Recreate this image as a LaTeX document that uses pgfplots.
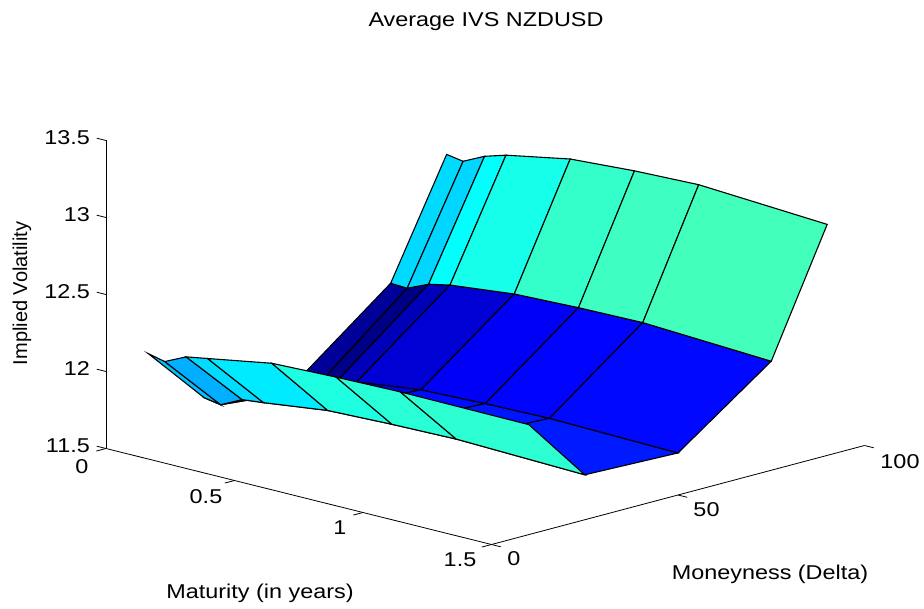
\documentclass[border=0pt]{standalone}
\usepackage{fontspec}
\setmainfont[FakeStretch=1.17]{Liberation Sans}
\newfontfamily\plainsans{Liberation Sans}
\usepackage{pgfplots}
\pgfplotsset{compat=1.18}
\tikzset{
  tl/.style={font=\fontsize{20}{24}\selectfont,anchor=center,inner sep=0pt},
  zl/.style={font=\fontsize{20}{24}\selectfont,anchor=east,inner sep=0pt,xshift=-16pt,yshift=2.5pt},
  ax/.style={black,line width=0.8pt},
}
\begin{document}
\begin{tikzpicture}
\useasboundingbox (0pt,0pt) rectangle (924pt,608pt);
\begin{axis}[
  anchor=origin, at={(106pt,159.5pt)},
  x={(257pt,-64pt)}, y={(3.73pt,0.99pt)}, z={(0pt,154pt)},
  xmin=0,xmax=1.5,ymin=0,ymax=100,zmin=11.5,zmax=13.5,
  clip=false, hide axis,
  colormap={matlabjet}{rgb=(0,0,0.5) rgb=(0,0,1) rgb=(0,0.5,1) rgb=(0,1,1) rgb=(0.5,1,0.5) rgb=(1,1,0) rgb=(1,0.5,0) rgb=(1,0,0) rgb=(0.5,0,0)},
]
\addplot3[surf, shader=flat corner, draw=black, line width=1.1pt, z buffer=sort, mesh/rows=5, mesh/cols=8, point meta=\thisrow{v}, point meta min=11.59, point meta max=13.09] table[x=m,y=d,z=v] {
m d v
0.0192 10 12.060
0.0833 10 12.035
0.1667 10 12.100
0.25 10 12.124
0.5 10 12.197
0.75 10 12.211
1 10 12.219
1.5 10 12.214
0.0192 25 11.677
0.0833 25 11.658
0.1667 25 11.726
0.25 25 11.741
0.5 25 11.794
0.75 25 11.808
1 25 11.816
1.5 25 11.792
0.0192 50 11.628
0.0833 50 11.600
0.1667 50 11.674
0.25 50 11.715
0.5 50 11.768
0.75 50 11.782
1 50 11.790
1.5 50 11.773
0.0192 75 12.099
0.0833 75 12.093
0.1667 75 12.154
0.25 75 12.183
0.5 75 12.229
0.75 75 12.244
1 75 12.251
1.5 75 12.208
0.0192 90 12.839
0.0833 90 12.821
0.1667 90 12.888
0.25 90 12.930
0.5 90 13.009
0.75 90 13.036
1 90 13.050
1.5 90 13.000
};
% axis lines
\draw[ax] (axis cs:0,0,11.5) -- (axis cs:1.5,0,11.5);
\draw[ax] (axis cs:1.5,0,11.5) -- (axis cs:1.5,100,11.5);
\draw[ax] (axis cs:0,0,11.5) -- (axis cs:0,0,13.5);
% maturity ticks
\draw[ax] (axis cs:0,0,11.5) -- (axis cs:0,-2.6,11.5);
\draw[ax] (axis cs:0.5,0,11.5) -- (axis cs:0.5,-2.6,11.5);
\draw[ax] (axis cs:1,0,11.5) -- (axis cs:1,-2.6,11.5);
\draw[ax] (axis cs:1.5,0,11.5) -- (axis cs:1.5,-2.6,11.5);
% moneyness ticks
\draw[ax] (axis cs:1.5,0,11.5) -- (axis cs:1.536,0,11.5);
\draw[ax] (axis cs:1.5,50,11.5) -- (axis cs:1.536,50,11.5);
\draw[ax] (axis cs:1.5,100,11.5) -- (axis cs:1.536,100,11.5);
% vol ticks
\draw[ax] (axis cs:0,0,11.5) -- (axis cs:-0.036,0,11.5);
\draw[ax] (axis cs:0,0,12) -- (axis cs:-0.036,0,12);
\draw[ax] (axis cs:0,0,12.5) -- (axis cs:-0.036,0,12.5);
\draw[ax] (axis cs:0,0,13) -- (axis cs:-0.036,0,13);
\draw[ax] (axis cs:0,0,13.5) -- (axis cs:-0.036,0,13.5);
% tick labels
\node[tl,xshift=-24pt,yshift=-18pt] at (axis cs:0,0,11.5) {0};
\node[tl,xshift=-28.5pt,yshift=-16.5pt] at (axis cs:0.5,0,11.5) {0.5};
\node[tl,xshift=-23pt,yshift=-15.5pt] at (axis cs:1,0,11.5) {1};
\node[tl,xshift=-31.5pt,yshift=-15.5pt] at (axis cs:1.5,0,11.5) {1.5};
\node[tl,xshift=22.5pt,yshift=-14.5pt] at (axis cs:1.5,0,11.5) {0};
\node[tl,xshift=28.5pt,yshift=-15pt] at (axis cs:1.5,50,11.5) {50};
\node[tl,xshift=35.5pt,yshift=-16.5pt] at (axis cs:1.5,100,11.5) {100};
\node[zl] at (axis cs:0,0,11.5) {11.5};
\node[zl] at (axis cs:0,0,12) {12};
\node[zl] at (axis cs:0,0,12.5) {12.5};
\node[zl] at (axis cs:0,0,13) {13};
\node[zl] at (axis cs:0,0,13.5) {13.5};
\end{axis}
\node at (486pt,586pt) {\fontsize{20}{24}\selectfont Average IVS NZDUSD};
\node at (260pt,15pt) {\fontsize{20}{24}\selectfont Maturity (in years)};
\node at (770pt,34pt) {\fontsize{20}{24}\selectfont Moneyness (Delta)};
\node[rotate=90] at (22pt,314.5pt) {\plainsans\fontsize{20}{24}\selectfont Implied Volatility};
\end{tikzpicture}
\end{document}
